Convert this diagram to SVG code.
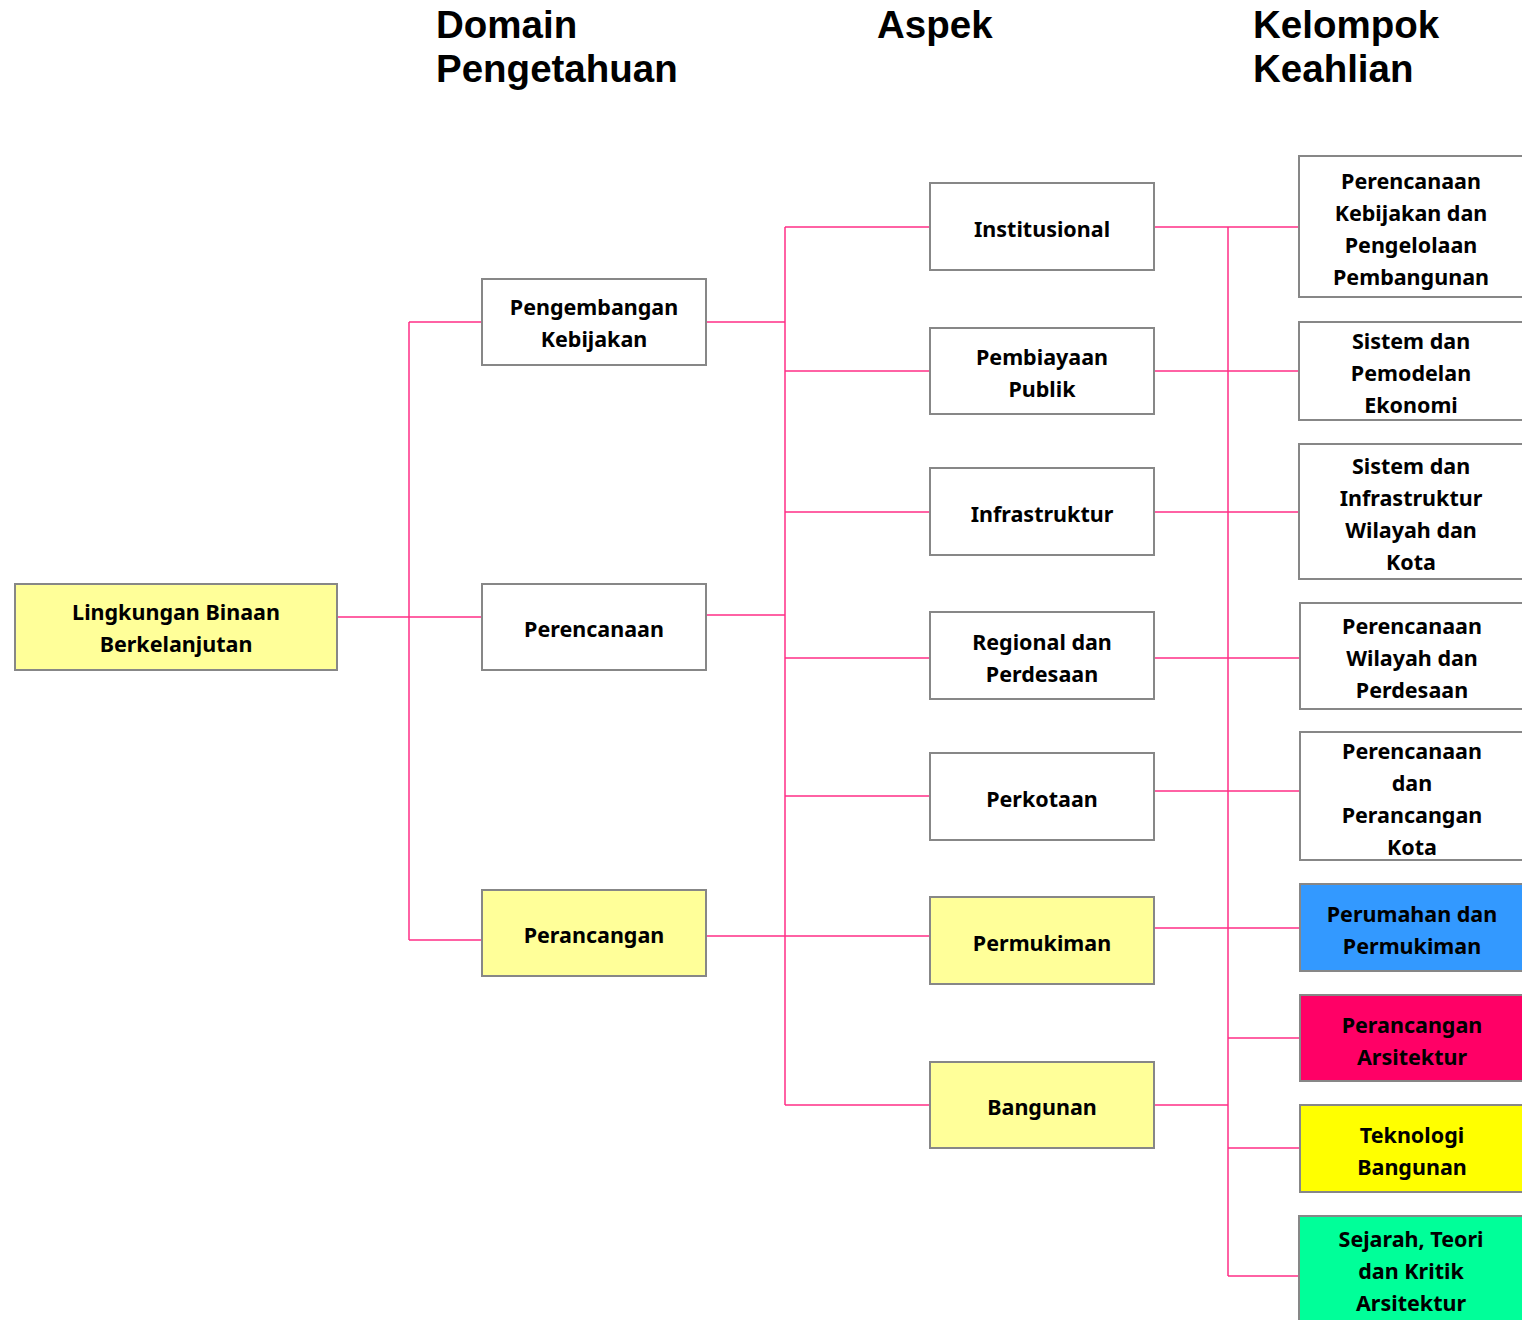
<svg xmlns="http://www.w3.org/2000/svg" width="1522" height="1320" viewBox="0 0 1522 1320">
<style>
.box{stroke:#878787;stroke-width:2;fill:#FFFFFF}
.y{fill:#FFFF99}
.t{font-family:"Noto Sans","Open Sans","DejaVu Sans",sans-serif;font-weight:bold;font-size:21.5px;fill:#000;text-anchor:middle}
.h{font-family:"Liberation Sans",Arial,sans-serif;font-weight:bold;font-size:38.5px;fill:#000}
.c{stroke:#FF2F86;stroke-width:1.5;fill:none}
</style>
<rect width="1522" height="1320" fill="#FFFFFF"/>
<g id="headers">
<text class="h" x="436" y="38">Domain</text>
<text class="h" x="436" y="82">Pengetahuan</text>
<text class="h" x="877" y="38">Aspek</text>
<text class="h" x="1253" y="38">Kelompok</text>
<text class="h" x="1253" y="82">Keahlian</text>
</g>
<g id="connectors">
<path class="c" d="M337 617H482M409 322V940M409 322H482M409 940H482"/>
<path class="c" d="M706 322H785M706 615H785M706 936H930M785 227V1105M785 227H930M785 371H930M785 512H930M785 658H930M785 796H930M785 1105H930"/>
<path class="c" d="M1228 227V1276M1154 227H1299M1154 371H1299M1154 512H1299M1154 658H1300M1154 791H1300M1154 928H1300M1228 1038H1300M1154 1105H1228M1228 1148H1300M1228 1276H1299"/>
</g>
<g id="root">
<rect class="box y" x="15" y="584" width="322" height="86"/>
<text class="t" x="176" y="620">Lingkungan Binaan</text>
<text class="t" x="176" y="652">Berkelanjutan</text>
</g>
<g id="d-pengembangan">
<rect class="box" x="482" y="279" width="224" height="86"/>
<text class="t" x="594" y="315">Pengembangan</text>
<text class="t" x="594" y="347">Kebijakan</text>
</g>
<g id="d-perencanaan">
<rect class="box" x="482" y="584" width="224" height="86"/>
<text class="t" x="594" y="637">Perencanaan</text>
</g>
<g id="d-perancangan">
<rect class="box y" x="482" y="890" width="224" height="86"/>
<text class="t" x="594" y="943">Perancangan</text>
</g>
<g id="a-institusional">
<rect class="box" x="930" y="183" width="224" height="87"/>
<text class="t" x="1042" y="237">Institusional</text>
</g>
<g id="a-pembiayaan">
<rect class="box" x="930" y="328" width="224" height="86"/>
<text class="t" x="1042" y="365">Pembiayaan</text>
<text class="t" x="1042" y="397">Publik</text>
</g>
<g id="a-infrastruktur">
<rect class="box" x="930" y="468" width="224" height="87"/>
<text class="t" x="1042" y="522">Infrastruktur</text>
</g>
<g id="a-regional">
<rect class="box" x="930" y="612" width="224" height="87"/>
<text class="t" x="1042" y="650">Regional dan</text>
<text class="t" x="1042" y="682">Perdesaan</text>
</g>
<g id="a-perkotaan">
<rect class="box" x="930" y="753" width="224" height="87"/>
<text class="t" x="1042" y="807">Perkotaan</text>
</g>
<g id="a-permukiman">
<rect class="box y" x="930" y="897" width="224" height="87"/>
<text class="t" x="1042" y="951">Permukiman</text>
</g>
<g id="a-bangunan">
<rect class="box y" x="930" y="1062" width="224" height="86"/>
<text class="t" x="1042" y="1115">Bangunan</text>
</g>
<g id="k-kebijakan">
<rect class="box" x="1299" y="156" width="226" height="141"/>
<text class="t" x="1411" y="189">Perencanaan</text>
<text class="t" x="1411" y="221">Kebijakan dan</text>
<text class="t" x="1411" y="253">Pengelolaan</text>
<text class="t" x="1411" y="285">Pembangunan</text>
</g>
<g id="k-ekonomi">
<rect class="box" x="1299" y="322" width="226" height="98"/>
<text class="t" x="1411" y="349">Sistem dan</text>
<text class="t" x="1411" y="381">Pemodelan</text>
<text class="t" x="1411" y="413">Ekonomi</text>
</g>
<g id="k-infrastruktur">
<rect class="box" x="1299" y="444" width="226" height="135"/>
<text class="t" x="1411" y="474">Sistem dan</text>
<text class="t" x="1411" y="506">Infrastruktur</text>
<text class="t" x="1411" y="538">Wilayah dan</text>
<text class="t" x="1411" y="570">Kota</text>
</g>
<g id="k-wilayah">
<rect class="box" x="1300" y="603" width="225" height="106"/>
<text class="t" x="1412" y="634">Perencanaan</text>
<text class="t" x="1412" y="666">Wilayah dan</text>
<text class="t" x="1412" y="698">Perdesaan</text>
</g>
<g id="k-kota">
<rect class="box" x="1300" y="732" width="225" height="128"/>
<text class="t" x="1412" y="759">Perencanaan</text>
<text class="t" x="1412" y="791">dan</text>
<text class="t" x="1412" y="823">Perancangan</text>
<text class="t" x="1412" y="855">Kota</text>
</g>
<g id="k-perumahan">
<rect class="box" x="1300" y="884" width="225" height="87" style="fill:#3399FF"/>
<text class="t" x="1412" y="922">Perumahan dan</text>
<text class="t" x="1412" y="954">Permukiman</text>
</g>
<g id="k-arsitektur">
<rect class="box" x="1300" y="995" width="225" height="86" style="fill:#FF0066"/>
<text class="t" x="1412" y="1033">Perancangan</text>
<text class="t" x="1412" y="1065">Arsitektur</text>
</g>
<g id="k-teknologi">
<rect class="box" x="1300" y="1105" width="225" height="87" style="fill:#FFFF00"/>
<text class="t" x="1412" y="1143">Teknologi</text>
<text class="t" x="1412" y="1175">Bangunan</text>
</g>
<g id="k-sejarah">
<rect class="box" x="1299" y="1216" width="226" height="130" style="fill:#00FF99"/>
<text class="t" x="1411" y="1247">Sejarah, Teori</text>
<text class="t" x="1411" y="1279">dan Kritik</text>
<text class="t" x="1411" y="1311">Arsitektur</text>
</g>
</svg>
